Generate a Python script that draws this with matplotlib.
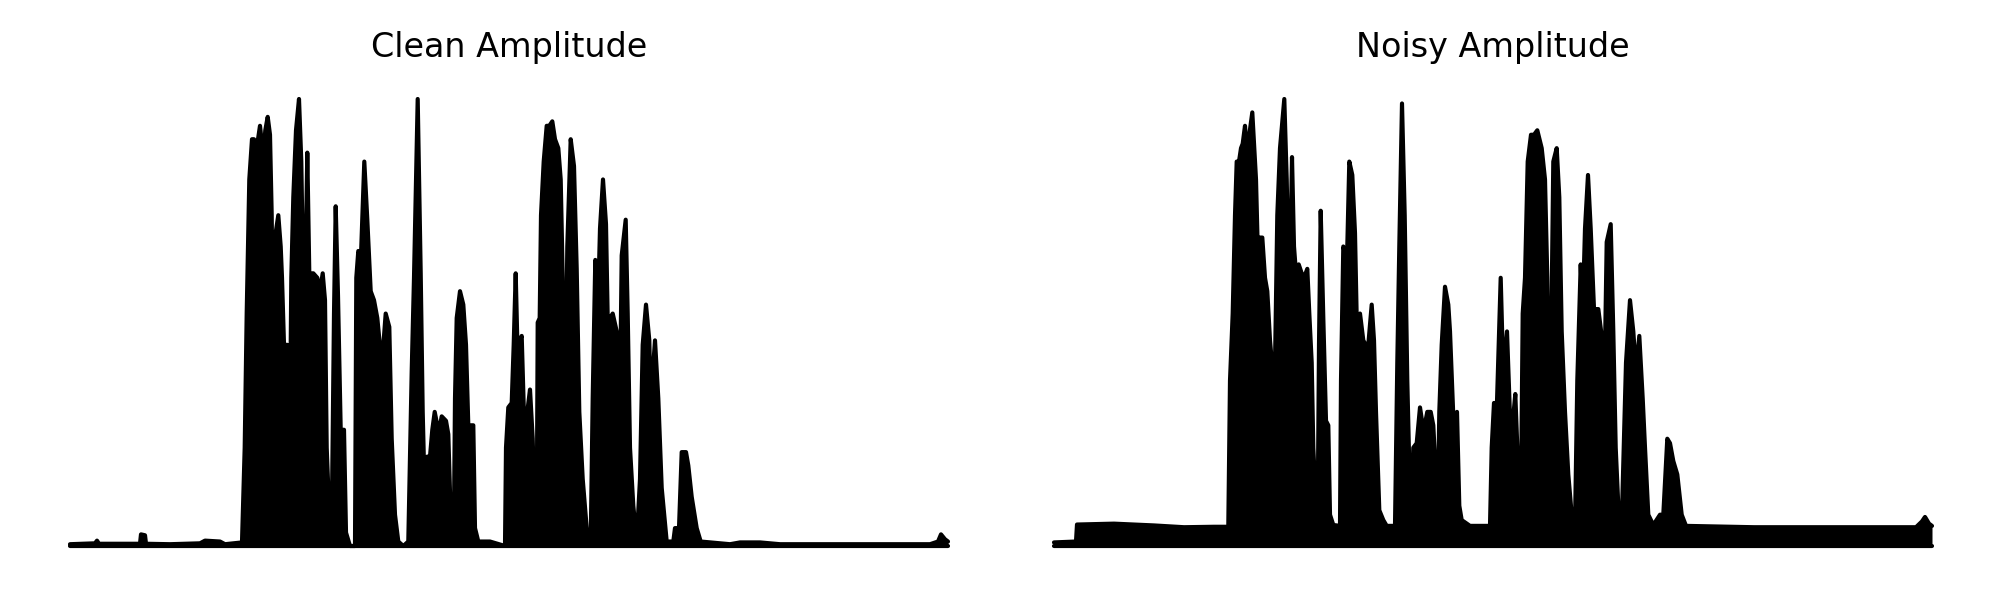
import numpy as np
import matplotlib
matplotlib.use('Agg')
import matplotlib.pyplot as plt

# envelope of |signal| (time in s, normalised amplitude)
clean_t = [0.00, 0.25, 0.27, 0.29, 0.70, 0.71, 0.75, 0.76, 1.00, 1.30, 1.35, 1.50, 1.55, 1.72,
           1.747, 1.767, 1.793, 1.82, 1.84, 1.867, 1.90, 1.933, 1.953, 1.977, 2.00, 2.017, 2.027,
           2.043, 2.083, 2.107, 2.12, 2.14, 2.173, 2.187, 2.20, 2.213, 2.233, 2.26, 2.29, 2.313,
           2.33, 2.353, 2.373, 2.393, 2.433, 2.473, 2.50, 2.527, 2.55, 2.567, 2.593, 2.617, 2.64,
           2.657, 2.68, 2.707, 2.74, 2.76, 2.80, 2.85, 2.863, 2.883, 2.91, 2.943, 2.973, 3.007,
           3.04, 3.073, 3.107, 3.127, 3.157, 3.193, 3.217, 3.25, 3.283, 3.333, 3.383, 3.417, 3.44,
           3.477, 3.507, 3.527, 3.553, 3.573, 3.60, 3.623, 3.647, 3.673, 3.693, 3.717, 3.76, 3.783,
           3.80, 3.823, 3.84, 3.85, 3.867, 3.90, 3.933, 3.96, 3.983, 4.033, 4.05, 4.083, 4.20, 4.35,
           4.36, 4.383, 4.417, 4.437, 4.457, 4.477, 4.497, 4.517, 4.54, 4.573, 4.60, 4.627, 4.65,
           4.667, 4.677, 4.697, 4.71, 4.737, 4.767, 4.793, 4.823, 4.85, 4.883, 4.907, 4.927, 4.937,
           4.957, 4.973, 5.007, 5.04, 5.067, 5.093, 5.127, 5.167, 5.207, 5.227, 5.253, 5.277, 5.30,
           5.33, 5.36, 5.377, 5.40, 5.427, 5.467, 5.50, 5.517, 5.557, 5.577, 5.60, 5.633, 5.667,
           5.70, 5.727, 5.76, 5.793, 5.807, 5.85, 5.883, 5.917, 5.967, 6.033, 6.05, 6.09, 6.117,
           6.16, 6.183, 6.217, 6.267, 6.307, 6.60, 6.70, 6.90, 7.10, 8.60, 8.68, 8.71, 8.75, 8.78]
clean_amp = [0.004, 0.006, 0.012, 0.005, 0.005, 0.026, 0.024, 0.005, 0.004, 0.006, 0.012, 0.010,
             0.004, 0.008, 0.22, 0.52, 0.82, 0.91, 0.91, 0.89, 0.94, 0.87, 0.93, 0.96, 0.92, 0.74,
             0.51, 0.68, 0.74, 0.67, 0.60, 0.45, 0.45, 0.24, 0.26, 0.60, 0.78, 0.93, 1.00, 0.86,
             0.62, 0.60, 0.88, 0.61, 0.61, 0.60, 0.57, 0.61, 0.55, 0.22, 0.07, 0.04, 0.52, 0.76,
             0.56, 0.26, 0.26, 0.03, 0.00, 0.00, 0.60, 0.66, 0.65, 0.86, 0.73, 0.57, 0.55, 0.51,
             0.43, 0.43, 0.52, 0.49, 0.24, 0.07, 0.01, 0.00, 0.01, 0.39, 0.60, 1.00, 0.61, 0.30,
             0.06, 0.20, 0.20, 0.26, 0.30, 0.27, 0.26, 0.29, 0.28, 0.25, 0.12, 0.01, 0.07, 0.33,
             0.51, 0.57, 0.54, 0.45, 0.27, 0.27, 0.04, 0.01, 0.01, 0.00, 0.22, 0.31, 0.32, 0.45,
             0.61, 0.42, 0.46, 0.47, 0.29, 0.30, 0.35, 0.24, 0.04, 0.03, 0.50, 0.51, 0.74, 0.86,
             0.94, 0.94, 0.95, 0.91, 0.89, 0.82, 0.60, 0.32, 0.36, 0.67, 0.91, 0.85, 0.62, 0.30,
             0.15, 0.04, 0.01, 0.33, 0.64, 0.51, 0.71, 0.82, 0.72, 0.51, 0.51, 0.52, 0.48, 0.33,
             0.65, 0.73, 0.52, 0.22, 0.09, 0.01, 0.15, 0.45, 0.54, 0.46, 0.32, 0.46, 0.33, 0.13,
             0.01, 0.01, 0.04, 0.04, 0.21, 0.21, 0.18, 0.11, 0.04, 0.01, 0.004, 0.008, 0.008,
             0.004, 0.004, 0.010, 0.026, 0.015, 0.010]

noisy_t = [0.00, 0.22, 0.23, 0.60, 1.00, 1.30, 1.60, 1.743, 1.76, 1.787, 1.81, 1.827, 1.85, 1.87,
           1.887, 1.91, 1.927, 1.953, 1.983, 2.003, 2.02, 2.037, 2.047, 2.06, 2.083, 2.11, 2.133,
           2.16, 2.183, 2.20, 2.213, 2.233, 2.26, 2.303, 2.327, 2.343, 2.36, 2.38, 2.40, 2.42,
           2.447, 2.477, 2.50, 2.533, 2.553, 2.577, 2.593, 2.62, 2.637, 2.65, 2.667, 2.693, 2.72,
           2.743, 2.76, 2.793, 2.86, 2.87, 2.893, 2.917, 2.933, 2.953, 2.983, 3.01, 3.027, 3.06,
           3.093, 3.117, 3.143, 3.177, 3.20, 3.22, 3.253, 3.293, 3.327, 3.41, 3.433, 3.453, 3.48,
           3.507, 3.533, 3.56, 3.577, 3.593, 3.627, 3.66, 3.687, 3.707, 3.733, 3.767, 3.793, 3.82,
           3.837, 3.853, 3.877, 3.91, 3.943, 3.96, 3.993, 4.03, 4.053, 4.077, 4.16, 4.36, 4.377,
           4.40, 4.427, 4.467, 4.493, 4.53, 4.56, 4.593, 4.613, 4.633, 4.653, 4.667, 4.687, 4.71,
           4.737, 4.77, 4.80, 4.833, 4.877, 4.91, 4.933, 4.947, 4.967, 4.993, 5.027, 5.053, 5.077,
           5.11, 5.143, 5.177, 5.21, 5.233, 5.267, 5.287, 5.31, 5.34, 5.367, 5.40, 5.443, 5.477,
           5.503, 5.527, 5.567, 5.593, 5.617, 5.647, 5.677, 5.72, 5.76, 5.793, 5.82, 5.853, 5.887,
           5.91, 5.943, 5.993, 6.06, 6.093, 6.133, 6.16, 6.193, 6.233, 6.277, 6.32, 7.00, 8.00,
           8.62, 8.68, 8.71, 8.75, 8.78]
noisy_amp = [0.008, 0.010, 0.048, 0.050, 0.046, 0.042, 0.043, 0.043, 0.37, 0.52, 0.74, 0.86, 0.86,
             0.89, 0.90, 0.94, 0.89, 0.92, 0.97, 0.89, 0.82, 0.67, 0.50, 0.69, 0.69, 0.60, 0.57,
             0.46, 0.40, 0.25, 0.45, 0.74, 0.89, 1.00, 0.82, 0.64, 0.61, 0.87, 0.67, 0.61, 0.63,
             0.61, 0.60, 0.62, 0.52, 0.41, 0.22, 0.09, 0.07, 0.45, 0.75, 0.51, 0.28, 0.27, 0.07,
             0.047, 0.045, 0.37, 0.67, 0.65, 0.67, 0.86, 0.83, 0.70, 0.51, 0.52, 0.46, 0.45, 0.45,
             0.54, 0.46, 0.30, 0.08, 0.058, 0.045, 0.045, 0.41, 0.67, 0.99, 0.74, 0.37, 0.11, 0.07,
             0.22, 0.23, 0.31, 0.27, 0.27, 0.30, 0.30, 0.27, 0.15, 0.07, 0.30, 0.45, 0.58, 0.54,
             0.48, 0.29, 0.30, 0.09, 0.058, 0.045, 0.045, 0.22, 0.32, 0.30, 0.60, 0.38, 0.48, 0.29,
             0.29, 0.34, 0.22, 0.06, 0.05, 0.52, 0.60, 0.86, 0.92, 0.92, 0.93, 0.89, 0.82, 0.60,
             0.33, 0.37, 0.86, 0.89, 0.78, 0.48, 0.30, 0.16, 0.07, 0.047, 0.37, 0.63, 0.52, 0.71,
             0.83, 0.71, 0.53, 0.53, 0.47, 0.34, 0.68, 0.72, 0.48, 0.22, 0.07, 0.05, 0.41, 0.55,
             0.48, 0.39, 0.47, 0.33, 0.22, 0.07, 0.047, 0.07, 0.07, 0.24, 0.23, 0.19, 0.16, 0.07,
             0.045, 0.042, 0.042, 0.042, 0.055, 0.065, 0.05, 0.045]

titles = ['Clean Amplitude', 'Noisy Amplitude']

fig = plt.figure(figsize=(10, 3), dpi=200)
panels = [(clean_t, clean_amp), (noisy_t, noisy_amp)]
lefts = [0.035, 0.527]

for left, (t, amp), title in zip(lefts, panels, titles):
    ax = fig.add_axes([left, 0.09, 0.439, 0.745])
    t = np.array(t)
    amp = np.array(amp)
    ax.fill_between(t, 0, amp, color='black', lw=0, clip_on=False)
    ax.plot(t, amp, color='black', lw=1.5, solid_joinstyle='round',
            solid_capstyle='round', clip_on=False)
    ax.plot(t, np.zeros_like(t), color='black', lw=1.5,
            solid_capstyle='round', clip_on=False)
    ax.set_xlim(t[0], t[-1])
    ax.set_ylim(0, 1)
    ax.set_title(title, fontsize=12, pad=15)
    ax.axis('off')

fig.savefig('out.png', dpi=200)
